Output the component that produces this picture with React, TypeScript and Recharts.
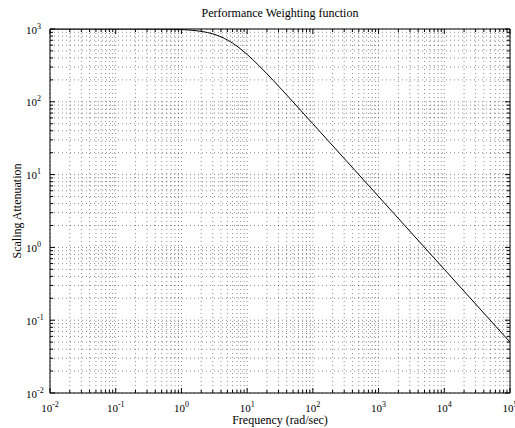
import React from 'react';
import { LineChart, Line, XAxis, YAxis, CartesianGrid } from 'recharts';

// Frequency (rad/sec) samples and the read-off weighting magnitude
const frequency = [0.01, 0.1, 0.5, 1, 1.5, 2, 2.5, 3, 4, 5, 6, 7, 8, 10, 12, 15, 20, 25, 30, 40, 50, 100, 1000, 10000, 100000];
const attenuation = [1000, 999.8, 995, 980.6, 957.8, 928.5, 894.4, 857.5, 780.9, 707.1, 640.2, 581.2, 530.0, 447.2, 384.6, 316.2, 242.5, 196.1, 164.4, 124.0, 99.5, 49.94, 5.0, 0.5, 0.05];

const xDecades = [0.01, 0.1, 1, 10, 100, 1000, 10000, 100000];
const xExponents = ['-2', '-1', '0', '1', '2', '3', '4', '5'];
const yDecades = [0.01, 0.1, 1, 10, 100, 1000];
const yExponents = ['-2', '-1', '0', '1', '2', '3'];
const minorMultipliers = [2, 3, 4, 5, 6, 7, 8, 9];

const title = 'Performance Weighting function';
const xLabel = 'Frequency (rad/sec)';
const yLabel = 'Scaling Attenuation';

const data = frequency.map((f, i) => ({ f, w: attenuation[i] }));

const withMinor = (decades: number[]) => {
  const out: number[] = [];
  decades.forEach((d, i) => {
    out.push(d);
    if (i < decades.length - 1) minorMultipliers.forEach((m) => out.push(parseFloat((d * m).toPrecision(6))));
  });
  return out;
};
const xTicks = withMinor(xDecades);
const yTicks = withMinor(yDecades);

const FONT = '"Liberation Serif", "Times New Roman", serif';
const MAJOR = 5;
const MINOR = 3;

const isMajor = (v: number) => {
  const l = Math.log10(v);
  return Math.abs(l - Math.round(l)) < 1e-6;
};
const expOf = (v: number, decades: number[], exps: string[]) => {
  const idx = decades.findIndex((d) => Math.abs(Math.log10(d) - Math.log10(v)) < 1e-6);
  return idx >= 0 ? exps[idx] : '';
};

const BottomTick = (props: any) => {
  const { x, y, payload } = props;
  const v = payload.value;
  const major = isMajor(v);
  const len = major ? MAJOR : MINOR;
  return (
    <g>
      <line x1={x} y1={y} x2={x} y2={y - len} stroke="#000" strokeWidth={1} />
      {major && (
        <text x={x} y={y + 19} textAnchor="middle" fontFamily={FONT} fontSize={11} fill="#000">
          10<tspan dy={-5} fontSize={8}>{expOf(v, xDecades, xExponents)}</tspan>
        </text>
      )}
    </g>
  );
};

const TopTick = (props: any) => {
  const { x, y, payload } = props;
  const len = isMajor(payload.value) ? MAJOR : MINOR;
  return <line x1={x} y1={y} x2={x} y2={y + len} stroke="#000" strokeWidth={1} />;
};

const LeftTick = (props: any) => {
  const { x, y, payload } = props;
  const v = payload.value;
  const major = isMajor(v);
  const len = major ? MAJOR : MINOR;
  return (
    <g>
      <line x1={x} y1={y} x2={x + len} y2={y} stroke="#000" strokeWidth={1} />
      {major && (
        <text x={x - 24} y={y + 4.5} textAnchor="start" fontFamily={FONT} fontSize={11} fill="#000">
          10<tspan dy={-5} fontSize={8}>{expOf(v, yDecades, yExponents)}</tspan>
        </text>
      )}
    </g>
  );
};

const RightTick = (props: any) => {
  const { x, y, payload } = props;
  const len = isMajor(payload.value) ? MAJOR : MINOR;
  return <line x1={x} y1={y} x2={x - len} y2={y} stroke="#000" strokeWidth={1} />;
};

const axisCommon = {
  interval: 0 as const,
  tickSize: 0,
  tickMargin: 0,
  tickLine: false,
  allowDataOverflow: true,
  axisLine: { stroke: '#000', strokeWidth: 1 },
};

export default function App() {
  return (
    <div style={{ position: 'absolute', left: 0, top: 0, width: 515, height: 428, background: '#fff' }}>
      <LineChart width={515} height={428} data={data} margin={{ top: 28, right: 4, bottom: 34, left: 49 }}>
        <CartesianGrid stroke="#000" strokeOpacity={0.45} strokeDasharray="1 3" strokeWidth={1} />
        <XAxis
          {...axisCommon}
          dataKey="f"
          type="number"
          scale="log"
          domain={[0.01, 100000]}
          ticks={xTicks}
          height={1}
          tick={<BottomTick />}
        />
        <XAxis
          {...axisCommon}
          xAxisId="top"
          orientation="top"
          dataKey="f"
          type="number"
          scale="log"
          domain={[0.01, 100000]}
          ticks={xTicks}
          height={1}
          tick={<TopTick />}
        />
        <YAxis
          {...axisCommon}
          type="number"
          scale="log"
          domain={[0.01, 1000]}
          ticks={yTicks}
          width={1}
          tick={<LeftTick />}
        />
        <YAxis
          {...axisCommon}
          yAxisId="right"
          orientation="right"
          type="number"
          scale="log"
          domain={[0.01, 1000]}
          ticks={yTicks}
          width={1}
          tick={<RightTick />}
        />
        <Line type="monotone" dataKey="w" stroke="#000" strokeWidth={1} dot={false} isAnimationActive={false} />
        <text x={280} y={17} textAnchor="middle" fontFamily={FONT} fontSize={12} fill="#000">{title}</text>
        <text x={280} y={424} textAnchor="middle" fontFamily={FONT} fontSize={12} fill="#000">{xLabel}</text>
        <text x={21} y={211} textAnchor="middle" fontFamily={FONT} fontSize={12} fill="#000" transform="rotate(-90 21 211)">{yLabel}</text>
      </LineChart>
    </div>
  );
}
